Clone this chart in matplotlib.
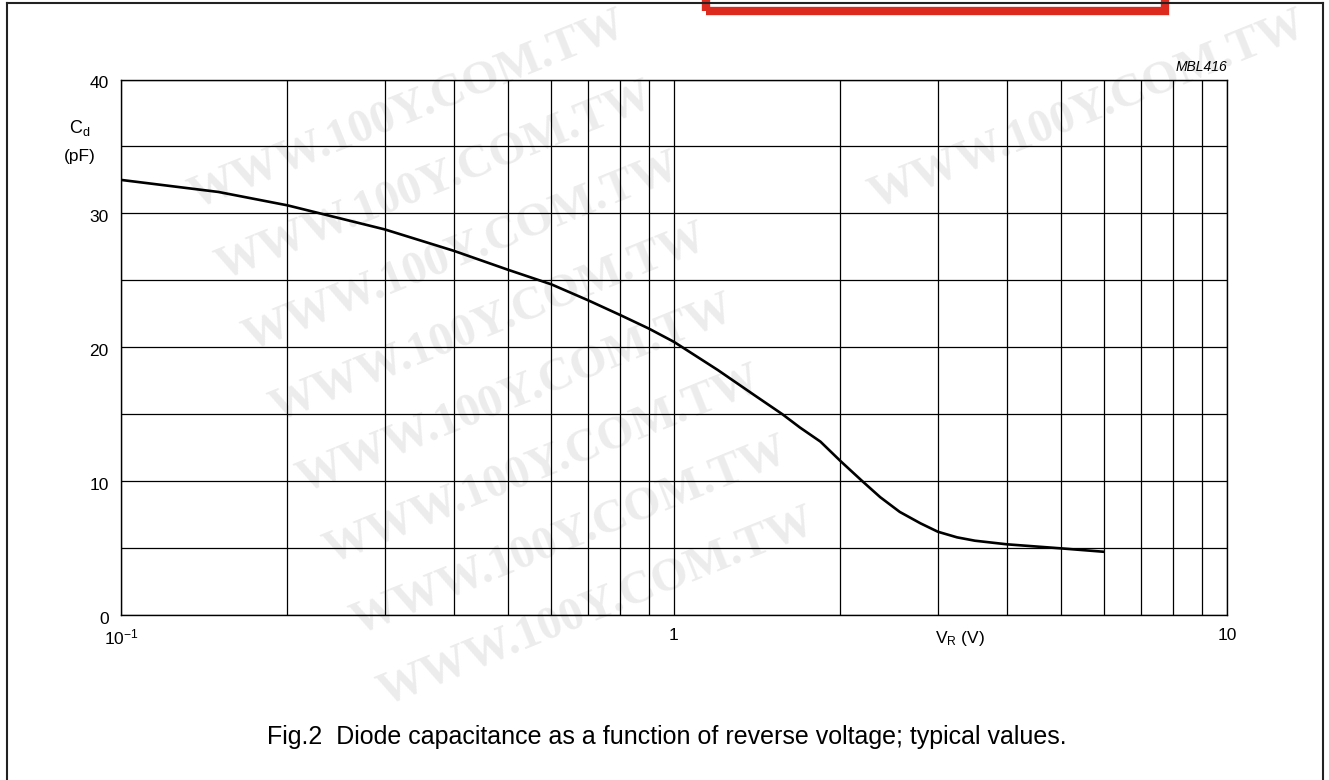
import matplotlib
matplotlib.use("Agg")
import matplotlib.pyplot as plt
from matplotlib.patches import Rectangle
from matplotlib.lines import Line2D
from matplotlib.transforms import ScaledTranslation

plt.rcParams["font.family"] = ["Liberation Sans", "DejaVu Sans"]
plt.rcParams["mathtext.fontset"] = "custom"
plt.rcParams["mathtext.rm"] = "Liberation Sans"
plt.rcParams["mathtext.it"] = "Liberation Sans:italic"

# =========================================================
# dados (Cd vs VR)
# =========================================================
v_r = [0.1, 0.15, 0.2, 0.3, 0.4, 0.5, 0.6, 0.7, 0.8, 0.9, 1.0, 1.2, 1.4, 1.57,
       1.69, 1.84, 2.0, 2.19, 2.36, 2.56, 2.79, 3.0, 3.25, 3.5, 4.0, 5.0, 6.0]
c_d = [32.5, 31.6, 30.6, 28.8, 27.2, 25.8, 24.7, 23.5, 22.4, 21.4, 20.4, 18.3, 16.4, 15.0,
       14.0, 12.95, 11.5, 10.0, 8.8, 7.7, 6.85, 6.22, 5.8, 5.55, 5.28, 4.98, 4.72]

x_major = [0.1, 1, 10]
x_minor = [0.2, 0.3, 0.4, 0.5, 0.6, 0.7, 0.8, 0.9, 2, 3, 4, 5, 6, 7, 8, 9]
x_labels = [r"$\mathregular{10^{-1}}$", "1", "10"]
y_grid = [0, 5, 10, 15, 20, 25, 30, 35, 40]
y_labels = ["0", "", "10", "", "20", "", "30", "", "40"]

caption = "Fig.2  Diode capacitance as a function of reverse voltage; typical values."
watermark = "WWW.100Y.COM.TW"

W, H = 1329, 780


def fx(px):
    return px / W


def fy(py):
    return 1 - py / H


fig = plt.figure(figsize=(W / 100, H / 100), dpi=100)
fig.patch.set_facecolor("white")

# marca de água (cinzento muito claro) - só cópias inteiras dentro da figura
marks = []
for c in (-1, 0, 1):
    for k in range(-1, 12):
        cx = 381 + 27 * k + 680 * c
        cy = 40 + 71 * k
        marks.append(fig.text(fx(cx), fy(cy), watermark, family="Liberation Serif",
                              weight="bold", fontsize=34, color="#ececec", rotation=22,
                              rotation_mode="anchor", ha="center", va="center", zorder=-5))
fig.canvas.draw()
for t in marks:
    bb = t.get_window_extent()
    if bb.x0 < 1 or bb.y0 < 1 or bb.x1 > W - 1 or bb.y1 > H - 1:
        t.remove()

ax = fig.add_axes([fx(121), fy(615), fx(1227) - fx(121), (615 - 79.5) / H])
ax.patch.set_alpha(0)
ax.set_xscale("log")
ax.set_xlim(0.1, 10)
ax.set_ylim(0, 40)

ax.set_xticks(x_major)
ax.set_xticks(x_minor, minor=True)
ax.set_xticklabels(x_labels)
ax.xaxis.set_minor_formatter(plt.NullFormatter())
ax.set_yticks(y_grid)
ax.set_yticklabels(y_labels)
ax.tick_params(which="both", length=0)
ax.tick_params(axis="x", pad=9, labelsize=12.5)
ax.tick_params(axis="y", pad=9, labelsize=12.5)
for lab in ax.get_yticklabels():
    lab.set_transform(lab.get_transform() + ScaledTranslation(0, -0.03, fig.dpi_scale_trans))

ax.grid(True, which="both", color="black", linewidth=0.9)
for s in ax.spines.values():
    s.set_linewidth(1.0)

ax.plot(v_r, c_d, color="black", linewidth=1.9, solid_joinstyle="round",
        solid_capstyle="butt", zorder=4)

fig.text(fx(80), fy(128), r"$\mathregular{C_d}$", fontsize=13, ha="center", va="center")
fig.text(fx(80), fy(157), "(pF)", fontsize=12.5, ha="center", va="center")
fig.text(fx(960), fy(639), r"$\mathregular{V_R}$ (V)", fontsize=12.5, ha="center", va="center")
fig.text(fx(1227), fy(67), "MBL416", fontsize=10, style="italic", ha="right", va="center")
fig.text(fx(667), fy(737), caption, fontsize=18, ha="center", va="center")

# moldura exterior
for xs, ys in (([7, 7], [3, 790]), ([7, 1323], [3, 3]), ([1323, 1323], [3, 790])):
    fig.add_artist(Line2D([fx(x) for x in xs], [fy(y) for y in ys], color="#222222",
                          linewidth=1.5))

# caixa vermelha no topo
fig.add_artist(Rectangle((fx(706), fy(11)), fx(1165) - fx(706), (11 + 40) / H,
                         fill=False, edgecolor="#dc2a1e", linewidth=6))

fig.savefig("out.png", dpi=100)
plt.close(fig)
